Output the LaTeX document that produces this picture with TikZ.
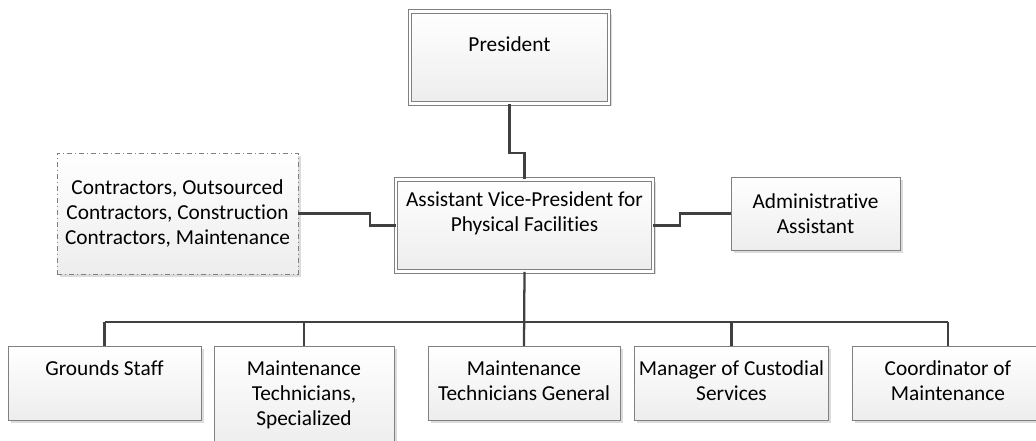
\documentclass[tikz,border=0pt]{standalone}
\usepackage{fontspec}
\setmainfont{Carlito}[Ligatures=NoCommon]
\usetikzlibrary{shadows}

\begin{document}
\begin{tikzpicture}[x=0.75pt,y=-0.75pt,
        font=\fontsize{16}{18.75}\selectfont,
        every node/.style={align=center},
        unit/.style={draw=gray,line width=0.6pt,top color=white,bottom color=gray!14,
            drop shadow={shadow xshift=2pt,shadow yshift=-2pt,fill=black!30,opacity=0.45}},
        head/.style={unit,double=white,double distance=2pt,anchor=north},
        staff/.style={unit,anchor=north,inner ysep=11pt},
        lines1/.style={text height=11pt,text depth=22.5pt},
        lines2/.style={text height=29.75pt,text depth=3.75pt},
        lines3/.style={text height=48.5pt,text depth=4pt},
        link/.style={draw=black!75,line width=1.7pt}]
    \useasboundingbox (0,0) rectangle (1036,441);

    % top of the chart
    \node[head,minimum width=149.25pt,inner ysep=19.3pt,text height=11pt,text depth=19.4pt]
        (pres) at (509.5,11) {President};
    \node[head,minimum width=192.75pt,inner ysep=9.5pt,text height=29.75pt,text depth=20.25pt]
        (avp) at (524.5,179) {Assistant Vice-President for\\Physical Facilities};
    \node[unit,dash pattern=on 4pt off 2pt on 1pt off 2pt,minimum width=180.75pt,minimum height=90.75pt]
        (con) at (177.5,213.5) {Contractors, Outsourced\\Contractors, Construction\\Contractors, Maintenance};
    \node[unit,minimum width=126.75pt,minimum height=54.75pt] (adm) at (815.5,213.5)
        {Administrative\\Assistant};

    % staff row
    \node[staff,lines1,minimum width=144.75pt] (grd) at (104.5,346) {Grounds Staff};
    \node[staff,lines3,minimum width=135pt] (spec) at (304,346) {Maintenance\\Technicians,\\Specialized};
    \node[staff,lines2,minimum width=144pt] (gen) at (524,346) {Maintenance\\Technicians General};
    \node[staff,lines2,minimum width=144.75pt] (mgr) at (731.5,346) {Manager of Custodial\\Services};
    \node[staff,lines2,minimum width=144pt] (crd) at (948,346) {Coordinator of\\Maintenance};

    \coordinate (jogA) at (0,153);
    \coordinate (jogB) at (370,0);
    \coordinate (jogC) at (680,0);
    \coordinate (bus) at (0,322);

    \draw[link] (pres.south) -- (pres.south |- jogA) -| (avp.north);
    \draw[link] (con.east) -- (con.east -| jogB) |- (avp.west);
    \draw[link] (avp.east) -- (avp.east -| jogC) |- (adm.west);
    \draw[link] (avp.south) -- (gen.north);
    \draw[link] (grd.north |- bus) -- (crd.north |- bus);
    \foreach \n in {grd,spec,mgr,crd}
        \draw[link] (\n.north) -- (\n.north |- bus);
\end{tikzpicture}
\end{document}
